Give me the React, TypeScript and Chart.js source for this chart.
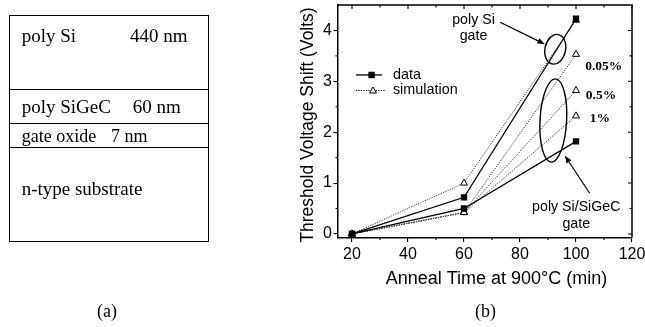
import React, { useEffect, useRef } from "react";
import { Chart, registerables } from "chart.js";

Chart.register(...registerables);

// ---- data ----
const annealTimes = [20, 60, 100];
const dataPolySi = [0, 0.72, 4.23];
const dataPolySiGeC = [0, 0.5, 1.82];
const simPolySi = [0, 1.0, 4.2];
const sim005 = [0, 0.42, 3.53];
const sim05 = [0, 0.42, 2.82];
const sim1 = [0, 0.42, 2.32];
const simLabels = ["0.05%", "0.5%", "1%"];
const xTicks = [20, 40, 60, 80, 100, 120];
const xMinorTicks = [30, 50, 70, 90, 110];
const yTicks = [0, 1, 2, 3, 4];
const yMinorTicks = [0.5, 1.5, 2.5, 3.5];
const xRange = [15, 120];
const yRange = [-0.07, 4.5];

const SANS = "'Liberation Sans', Arial, sans-serif";
const SERIF = "'Liberation Serif', 'Times New Roman', serif";

const pts = (ys: number[]) => annealTimes.map((x, i) => ({ x, y: ys[i] }));

function drawArrow(ctx: CanvasRenderingContext2D, x1: number, y1: number, x2: number, y2: number) {
  const ang = Math.atan2(y2 - y1, x2 - x1);
  const len = 7.5;
  const w = 2.8;
  ctx.beginPath();
  ctx.moveTo(x1, y1);
  ctx.lineTo(x2 - Math.cos(ang) * len * 0.7, y2 - Math.sin(ang) * len * 0.7);
  ctx.stroke();
  ctx.beginPath();
  ctx.moveTo(x2, y2);
  ctx.lineTo(x2 - len * Math.cos(ang) + w * Math.sin(ang), y2 - len * Math.sin(ang) - w * Math.cos(ang));
  ctx.lineTo(x2 - len * Math.cos(ang) - w * Math.sin(ang), y2 - len * Math.sin(ang) + w * Math.cos(ang));
  ctx.closePath();
  ctx.fill();
}

function drawTriangle(ctx: CanvasRenderingContext2D, cx: number, cy: number, r: number) {
  ctx.beginPath();
  ctx.moveTo(cx, cy - r);
  ctx.lineTo(cx + r * 0.866, cy + r * 0.5);
  ctx.lineTo(cx - r * 0.866, cy + r * 0.5);
  ctx.closePath();
  ctx.fillStyle = "#fff";
  ctx.fill();
  ctx.stroke();
}

const overlayPlugin = {
  id: "overlay",
  afterDraw(chart: any) {
    const { ctx, chartArea: a, scales } = chart;
    const xs = scales.x;
    const ys = scales.y;
    const X = (v: number) => xs.getPixelForValue(v);
    const Y = (v: number) => ys.getPixelForValue(v);
    ctx.save();
    ctx.strokeStyle = "#000";
    ctx.fillStyle = "#000";

    // top & right frame
    ctx.lineWidth = 1.5;
    ctx.beginPath();
    ctx.moveTo(a.left, a.top);
    ctx.lineTo(a.right, a.top);
    ctx.lineTo(a.right, a.bottom);
    ctx.stroke();

    // ticks
    ctx.lineWidth = 1.1;
    ctx.beginPath();
    xTicks.forEach((v) => {
      const p = X(v);
      ctx.moveTo(p, a.top);
      ctx.lineTo(p, a.top + 4);
    });
    xMinorTicks.forEach((v) => {
      const p = X(v);
      ctx.moveTo(p, a.top);
      ctx.lineTo(p, a.top + 2.5);
      ctx.moveTo(p, a.bottom);
      ctx.lineTo(p, a.bottom + 2.5);
    });
    yTicks.forEach((v) => {
      const p = Y(v);
      ctx.moveTo(a.right, p);
      ctx.lineTo(a.right - 4, p);
    });
    yMinorTicks.forEach((v) => {
      const p = Y(v);
      ctx.moveTo(a.right, p);
      ctx.lineTo(a.right - 2.5, p);
      ctx.moveTo(a.left, p);
      ctx.lineTo(a.left - 2.5, p);
    });
    ctx.stroke();

    // axis titles
    ctx.fillStyle = "#000";
    ctx.font = `17.5px ${SANS}`;
    ctx.textAlign = "center";
    ctx.textBaseline = "middle";
    ctx.save();
    ctx.translate(308, 125);
    ctx.rotate(-Math.PI / 2);
    ctx.fillText("Threshold Voltage Shift (Volts)", 0, 0);
    ctx.restore();
    ctx.font = `18px ${SANS}`;
    ctx.fillText("Anneal Time at 900\u00B0C (min)", 496.5, 279);

    // legend
    const lx1 = X(21.4), lx2 = X(30.7), lm = X(27.0), lt = X(34.6);
    const ly1 = Y(3.125), ly2 = Y(2.82);
    ctx.lineWidth = 1.3;
    ctx.beginPath();
    ctx.moveTo(lx1, ly1);
    ctx.lineTo(lx2, ly1);
    ctx.stroke();
    ctx.fillRect(lm - 3.2, ly1 - 3.2, 6.4, 6.4);
    ctx.lineWidth = 1;
    ctx.setLineDash([1.2, 1.3]);
    ctx.beginPath();
    ctx.moveTo(lx1, ly2);
    ctx.lineTo(X(32), ly2);
    ctx.stroke();
    ctx.setLineDash([]);
    drawTriangle(ctx, X(27.5), ly2 + 0.5, 4);
    ctx.fillStyle = "#000";
    ctx.font = `14.4px ${SANS}`;
    ctx.textAlign = "left";
    ctx.fillText("data", lt, ly1);
    ctx.fillText("simulation", lt, ly2);

    // annotations
    ctx.textAlign = "center";
    ctx.font = `14.2px ${SANS}`;
    ctx.fillText("poly Si", X(63.4), Y(4.21));
    ctx.fillText("gate", X(63.4), Y(3.89));
    ctx.fillText("poly Si/SiGeC", X(100.1), Y(0.53));
    ctx.fillText("gate", X(100.1), Y(0.195));

    ctx.lineWidth = 1.4;
    ctx.beginPath();
    ctx.ellipse(X(92.6), Y(3.63), 10.3, 15, (12 * Math.PI) / 180, 0, Math.PI * 2);
    ctx.stroke();
    ctx.beginPath();
    ctx.ellipse(X(91.9), Y(2.23), 13.3, 41.7, (3 * Math.PI) / 180, 0, Math.PI * 2);
    ctx.stroke();

    ctx.lineWidth = 1.2;
    drawArrow(ctx, X(72.9), Y(4.16), X(88.9), Y(3.73));
    drawArrow(ctx, X(104.9), Y(0.8), X(96), Y(1.54));

    ctx.textAlign = "left";
    ctx.font = `bold 13.5px ${SERIF}`;
    const labelPos = [
      [103.3, 3.29],
      [103.5, 2.73],
      [104.9, 2.26],
    ];
    simLabels.forEach((t, i) => ctx.fillText(t, X(labelPos[i][0]), Y(labelPos[i][1])));

    ctx.restore();
  },
};

function ChartPanel() {
  const ref = useRef<HTMLCanvasElement | null>(null);
  useEffect(() => {
    if (!ref.current) return;
    const solid = {
      borderColor: "#000",
      borderWidth: 1.3,
      pointStyle: "rect",
      pointRadius: 4.5,
      pointBackgroundColor: "#000",
      pointBorderColor: "#000",
      pointBorderWidth: 0,
      showLine: true,
      tension: 0,
    };
    const dotted = {
      borderColor: "#333",
      borderWidth: 1,
      borderDash: [1.2, 1.3],
      pointStyle: "triangle",
      pointRadius: 4,
      pointBackgroundColor: "#fff",
      pointBorderColor: "#000",
      pointBorderWidth: 1,
      showLine: true,
      tension: 0,
    };
    const tickFont = { family: SANS, size: 16 };
    const chart = new Chart(ref.current, {
      type: "scatter",
      data: {
        datasets: [
          { label: "data poly Si", data: pts(dataPolySi), ...solid },
          { label: "data poly Si/SiGeC", data: pts(dataPolySiGeC), ...solid },
          { label: "simulation poly Si", data: pts(simPolySi), ...dotted },
          { label: "simulation " + simLabels[0], data: pts(sim005), ...dotted },
          { label: "simulation " + simLabels[1], data: pts(sim05), ...dotted },
          { label: "simulation " + simLabels[2], data: pts(sim1), ...dotted },
        ] as any,
      },
      options: {
        animation: false,
        responsive: false,
        maintainAspectRatio: false,
        layout: { padding: { left: 290, right: 13, top: 3.5, bottom: 0 } },
        plugins: { legend: { display: false }, tooltip: { enabled: false } },
        scales: {
          x: {
            type: "linear",
            min: xRange[0],
            max: xRange[1],
            afterBuildTicks: (s: any) => {
              s.ticks = xTicks.map((v) => ({ value: v }));
            },
            afterFit: (s: any) => {
              s.height = 89.5;
              s.paddingLeft = 0;
              s.paddingRight = 0;
            },
            ticks: { font: tickFont, color: "#000", padding: 3, maxRotation: 0, autoSkip: false },
            grid: { display: true, drawOnChartArea: false, drawTicks: true, tickLength: 4.5, color: "#000", lineWidth: 1.1 },
            border: { display: true, color: "#000", width: 1.5 },
          },
          y: {
            type: "linear",
            min: yRange[0],
            max: yRange[1],
            afterBuildTicks: (s: any) => {
              s.ticks = yTicks.map((v) => ({ value: v }));
            },
            afterFit: (s: any) => {
              s.width = 48;
              s.paddingTop = 0;
              s.paddingBottom = 0;
            },
            ticks: { font: tickFont, color: "#000", padding: 1.5, autoSkip: false },
            grid: { display: true, drawOnChartArea: false, drawTicks: true, tickLength: 4.5, color: "#000", lineWidth: 1.1 },
            border: { display: true, color: "#000", width: 1.5 },
          },
        },
      } as any,
      plugins: [overlayPlugin],
    });
    return () => chart.destroy();
  }, []);
  return (
    <canvas
      ref={ref}
      width={645}
      height={327}
      style={{ position: "absolute", left: 0, top: 0, width: 645, height: 327 }}
    />
  );
}

const txt = (left: number, top: number, size: number): React.CSSProperties => ({
  position: "absolute",
  left,
  top,
  fontFamily: SERIF,
  fontSize: size,
  lineHeight: `${size}px`,
  whiteSpace: "nowrap",
  color: "#000",
});

const hline = (top: number): React.CSSProperties => ({
  position: "absolute",
  left: 9,
  top,
  width: 200,
  height: 0,
  borderTop: "1.5px solid #000",
});

export default function App() {
  return (
    <div style={{ position: "fixed", left: 0, top: 0, width: 645, height: 327, background: "#fff", overflow: "hidden" }}>
      <ChartPanel />
      <div
        style={{
          position: "absolute",
          left: 9,
          top: 14.5,
          width: 200,
          height: 227.5,
          border: "1.5px solid #000",
          boxSizing: "border-box",
        }}
      />
      <div style={hline(88.5)} />
      <div style={hline(123.3)} />
      <div style={hline(147)} />
      <div style={txt(21.7, 26, 19)}>poly Si</div>
      <div style={txt(130, 26, 19)}>440 nm</div>
      <div style={txt(21.7, 97.3, 19)}>poly SiGeC</div>
      <div style={txt(132.7, 97.3, 19)}>60 nm</div>
      <div style={txt(21.7, 127.4, 18)}>gate oxide</div>
      <div style={txt(111, 127.4, 18)}>7 nm</div>
      <div style={txt(21.7, 178.6, 19)}>n-type substrate</div>
      <div style={{ ...txt(0, 302, 18), left: 97, width: 20, textAlign: "center" }}>(a)</div>
      <div style={{ ...txt(0, 302, 18), left: 475, width: 20, textAlign: "center" }}>(b)</div>
    </div>
  );
}
